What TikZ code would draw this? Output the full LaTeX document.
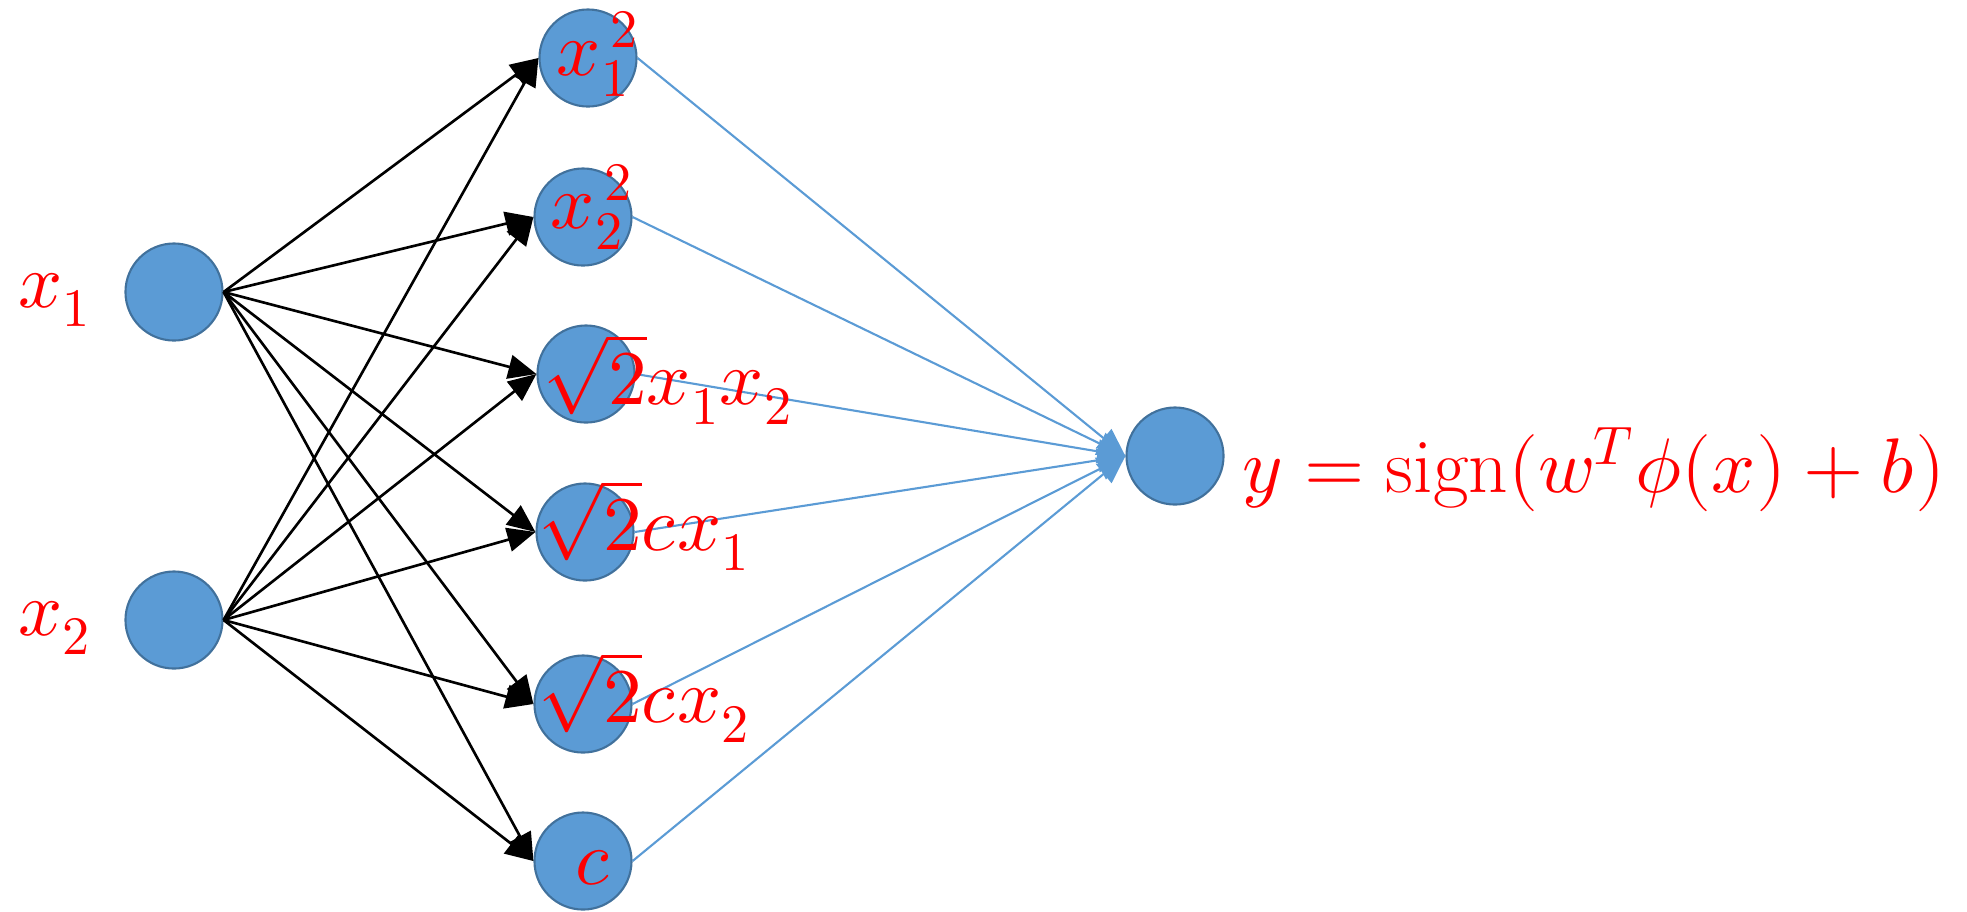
\documentclass[tikz,border=0pt]{standalone}
\usepackage{amsmath}
\usepackage{unicode-math}
\usetikzlibrary{arrows.meta}
\definecolor{unitblue}{RGB}{91,155,213}
\definecolor{unitedge}{RGB}{65,113,156}

\begin{document}
\begin{tikzpicture}[
  x=0.01cm, y=-0.01cm,
  >={Triangle[length=2.8mm, width=2.4mm]},
  arr/.style={->, black, line width=0.75pt},
  wire/.style={->, unitblue, line width=0.6pt},
  unit/.style={
    circle, draw=unitedge, fill=unitblue, line width=0.6pt,
    minimum size=9.7mm, inner sep=0pt
  },
  lbl/.style={text=red, inner sep=0pt, font=\fontsize{22}{26}\selectfont}
]
\useasboundingbox (0,0) rectangle (1967,911);

% --- Input units ---
\node[unit] (I1) at (174,292) {};
\node[unit] (I2) at (174,620) {};

% --- Feature units ---
\node[unit] (M1) at (588,58) {};
\node[unit] (M2) at (583,217) {};
\node[unit] (M3) at (586,374) {};
\node[unit] (M4) at (585,532) {};
\node[unit] (M5) at (583,704) {};
\node[unit] (M6) at (583,861) {};

% --- Output unit ---
\node[unit] (O) at (1175,456) {};

% --- Input -> features ---
\foreach \i in {1,2}{
  \foreach \j in {1,...,6}{
    \draw[arr] (I\i.east) -- (M\j.west);
  }
}

% --- Features -> output ---
\foreach \j in {1,...,6}{
  \draw[wire] (M\j.east) -- (O.west);
}

% --- Labels ---
\node[lbl] (LI1) at (55,300) {$x_1$};
\node[lbl] (LI2) at (55,628) {$x_2$};
\node[lbl] (LM1) at (598,54) {$x_{1}^{\,2}$};
\node[lbl] (LM2) at (592,207) {$x_{2}^{\,2}$};
\node[lbl, anchor=west] (LM3) at (543,379) {$\sqrt{2}x_1x_2$};
\node[lbl, anchor=west] (LM4) at (538,525) {$\sqrt{2}cx_1$};
\node[lbl, anchor=west] (LM5) at (538,697) {$\sqrt{2}cx_2$};
\node[lbl] (LM6) at (593,868) {$c$};
\node[lbl, anchor=west] (LO) at (1242,470)
  {$y=\operatorname{sign}(w^T\phi(x)+b)$};

\end{tikzpicture}
\end{document}
